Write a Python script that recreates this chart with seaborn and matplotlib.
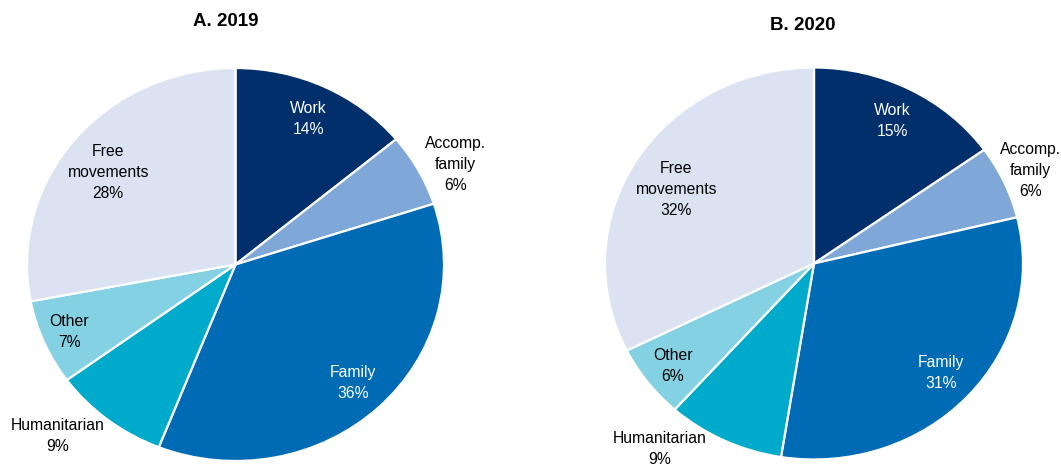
import numpy as np
import matplotlib
matplotlib.use("Agg")
import matplotlib.pyplot as plt
import seaborn as sns

# Shares of permanent migration by category (%)
categories = ["Work", "Accomp.\nfamily", "Family", "Humanitarian", "Other", "Free\nmovements"]
shares_2019 = [14, 6, 36, 9, 7, 28]
shares_2020 = [15, 6, 31, 9, 6, 32]
panel_titles = ["A. 2019", "B. 2020"]

sns.set_theme(style="white")
plt.rcParams["font.family"] = ["Liberation Sans", "DejaVu Sans"]

palette = sns.color_palette(["#002F6C", "#7FA7D7", "#006BB5", "#00AACB", "#84D1E3", "#DBE3F3"])
text_colors = ["white", "black", "white", "black", "black", "black"]

# label distance (in radii) and angular nudge (degrees) for each slice
label_style = {
    "A. 2019": [(0.82, 0), (1.17, -3), (0.825, 0), (1.22, -6.5), (0.87, 0), (0.77, 2)],
    "B. 2020": [(0.82, 0), (1.14, 0), (0.826, 0), (1.20, -12.5), (0.855, 0.5), (0.76, 2)],
}

W, H = 1061, 465
fig = plt.figure(figsize=(W / 100, H / 100), dpi=100)

# axes rectangles in pixels: left, top, width, height
boxes = [(27, 68, 417, 393), (605, 67.5, 418, 392)]
title_pos = [(226, 22), (803, 26)]

for title, shares, box, tpos in zip(panel_titles, [shares_2019, shares_2020], boxes, title_pos):
    l, t, w, h = box
    ax = fig.add_axes([l / W, 1 - (t + h) / H, w / W, h / H])
    wedges, _ = ax.pie(
        shares,
        colors=palette,
        startangle=90,
        counterclock=False,
        wedgeprops=dict(edgecolor="white", linewidth=1.6),
    )
    ax.set_aspect("auto")
    ax.set_xlim(-1, 1)
    ax.set_ylim(-1, 1)
    ax.axis("off")

    for wdg, label, val, tc, (dist, nudge) in zip(wedges, categories, shares, text_colors, label_style[title]):
        ang = np.deg2rad((wdg.theta1 + wdg.theta2) / 2 + nudge)
        ax.text(dist * np.cos(ang), dist * np.sin(ang), f"{label}\n{val}%",
                ha="center", va="center", color=tc, fontsize=11.3,
                linespacing=1.5, clip_on=False)

    fig.text(tpos[0] / W, 1 - tpos[1] / H, title, ha="center", va="center",
             fontsize=13.5, fontweight="bold", color="black")

fig.savefig("out.png", dpi=100)
